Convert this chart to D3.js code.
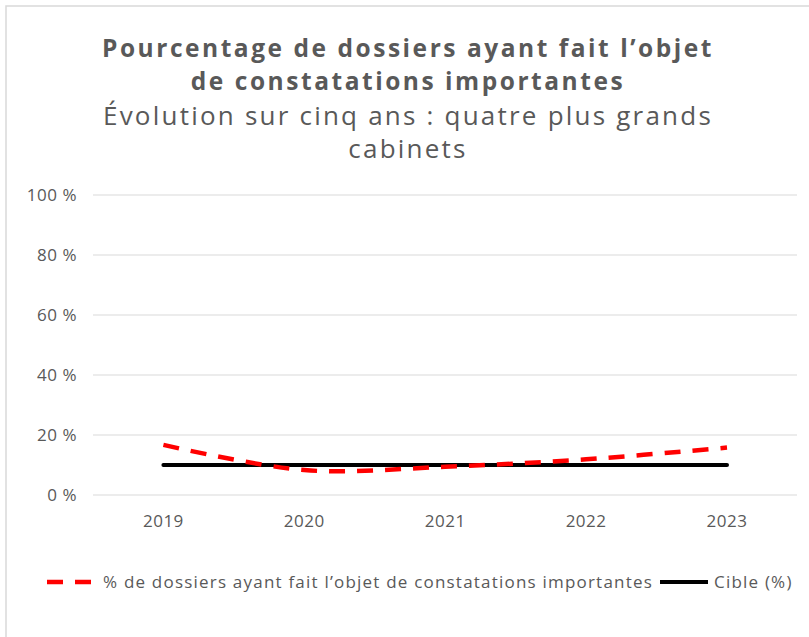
<!DOCTYPE html>
<html><head><meta charset="utf-8">
<script src="https://cdn.jsdelivr.net/npm/d3@7"></script>
<style>body{margin:0;background:#fff}svg{display:block}text{font-family:"Open Sans",Lato,sans-serif;fill:#595959;font-variant-ligatures:none}</style>
</head><body><svg id="c" width="809" height="637"></svg>
<script>
const years = ["2019","2020","2021","2022","2023"];
const findings = [16.7, 8.3, 9.4, 11.9, 15.8];
const target = [10, 10, 10, 10, 10];
const yTicks = [0, 20, 40, 60, 80, 100];
const titleLines = ["Pourcentage de dossiers ayant fait l’objet", "de constatations importantes"];
const subtitleLines = ["Évolution sur cinq ans : quatre plus grands", "cabinets"];
const seriesNames = ["% de dossiers ayant fait l’objet de constatations importantes", "Cible (%)"];

const svg = d3.select("#c");
svg.append("rect").attr("x",6).attr("y",6).attr("width",900).attr("height",900)
  .attr("fill","#fff").attr("stroke","#d9d9d9").attr("stroke-width",1.5);

const x = d3.scalePoint().domain(years).range([163.4, 727]);
const y = d3.scaleLinear().domain([0,100]).range([495,195]);
const gx0 = 93, gx1 = 797;

function fitText(sel, w){
  const n = sel.text().length;
  const l = sel.node().getComputedTextLength();
  const ls = (w - l) / n;
  sel.attr("letter-spacing", ls);
  return ls;
}
function block(lines, ys, weight, width, fs){
  const t = svg.append("text").attr("text-anchor","middle").attr("font-size",fs).attr("font-weight",weight);
  const spans = lines.map((s,i)=>t.append("tspan").attr("x",408).attr("y",ys[i]).text(s));
  const l = spans[0].node().getComputedTextLength();
  const ls = (width - l) / lines[0].length;
  spans.forEach(sp=>sp.attr("letter-spacing", ls));
}
block(titleLines, [57, 90], "bold", 612, 24.5);
block(subtitleLines, [125, 158], "normal", 610, 26);

// grid
svg.append("g").selectAll("line").data(yTicks).join("line")
  .attr("x1",gx0).attr("x2",gx1).attr("y1",d=>y(d)).attr("y2",d=>y(d))
  .attr("stroke","#d9d9d9").attr("stroke-width",1.2);
svg.append("g").selectAll("text").data(yTicks).join("text")
  .attr("x",77).attr("y",d=>y(d)+6).attr("text-anchor","end").attr("font-size",17).attr("letter-spacing",0.5).text(d=>d+" %");
svg.append("g").selectAll("text").data(years).join("text")
  .attr("x",d=>x(d)).attr("y",527).attr("text-anchor","middle").attr("font-size",17).attr("letter-spacing",0.5).text(d=>d);

// lines
const line = d3.line().x((d,i)=>x(years[i])).y(d=>y(d));
svg.append("path").datum(target).attr("d",line).attr("fill","none").attr("stroke","#000").attr("stroke-width",4).attr("stroke-linecap","round");
svg.append("path").datum(findings).attr("d",line.curve(d3.curveCatmullRom.alpha(0.5))).attr("fill","none")
  .attr("stroke","#ff0000").attr("stroke-width",4.5).attr("stroke-dasharray","16,12");

// legend
const ly = 582;
svg.append("line").attr("x1",45).attr("x2",95).attr("y1",ly).attr("y2",ly).attr("stroke","#ff0000").attr("stroke-width",4.5).attr("stroke-dasharray","16,12").attr("stroke-dashoffset",-2);
const lt1 = svg.append("text").attr("x",103).attr("y",ly+6).attr("font-size",17).text(seriesNames[0]);
const lsL = fitText(lt1, 550);
svg.append("line").attr("x1",660).attr("x2",708).attr("y1",ly).attr("y2",ly).attr("stroke","#000").attr("stroke-width",4);
svg.append("text").attr("x",714).attr("y",ly+6).attr("font-size",17).attr("letter-spacing",lsL).text(seriesNames[1]);
</script></body></html>
